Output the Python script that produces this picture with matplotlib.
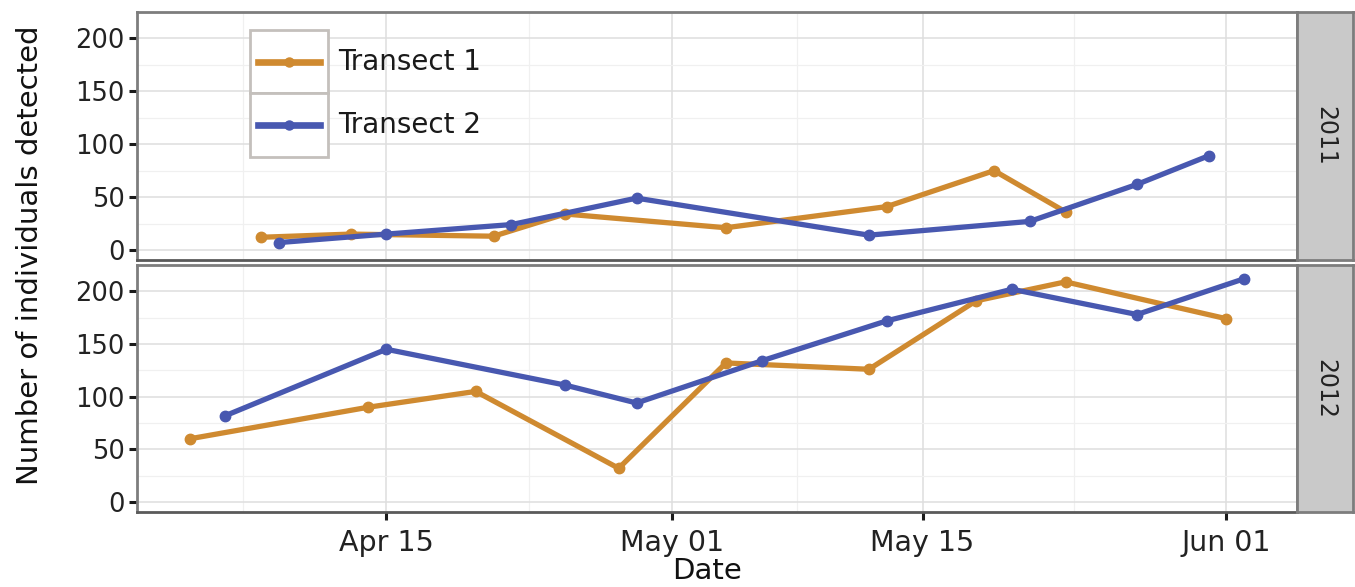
import numpy as np
import pandas as pd
import matplotlib
matplotlib.use("Agg")
import matplotlib.pyplot as plt
import matplotlib.dates as mdates
from matplotlib.patches import Rectangle
from matplotlib.lines import Line2D

# survey dates (month-day) and counts per transect, per year
t1_2011_dates = ["04-08", "04-13", "04-21", "04-25", "05-04", "05-13", "05-19", "05-23"]
t1_2011_counts = [12, 15, 13, 34, 21, 41, 75, 36]
t2_2011_dates = ["04-09", "04-15", "04-22", "04-29", "05-12", "05-21", "05-27", "05-31"]
t2_2011_counts = [7, 15, 24, 49, 14, 27, 62, 89]

t1_2012_dates = ["04-04", "04-14", "04-20", "04-28", "05-04", "05-12", "05-18", "05-23", "06-01"]
t1_2012_counts = [60, 90, 105, 32, 132, 126, 191, 209, 174]
t2_2012_dates = ["04-06", "04-15", "04-25", "04-29", "05-06", "05-13", "05-20", "05-27", "06-02"]
t2_2012_counts = [82, 145, 111, 94, 134, 172, 202, 178, 212]

years = ["2011", "2012"]
series_names = ["Transect 1", "Transect 2"]
colors = ["#cf8a30", "#4858b0"]
y_ticks = [0, 50, 100, 150, 200]
x_tick_days = ["04-15", "05-01", "05-15", "06-01"]


def to_date(md):
    # both years drawn on a common calendar axis
    return pd.to_datetime(["2012-" + d for d in md])


data = {
    "2011": [(t1_2011_dates, t1_2011_counts), (t2_2011_dates, t2_2011_counts)],
    "2012": [(t1_2012_dates, t1_2012_counts), (t2_2012_dates, t2_2012_counts)],
}

plt.rcParams["font.family"] = ["DejaVu Sans"]

fig = plt.figure(figsize=(13.55, 5.87), dpi=100)
W, H = 1355.0, 587.0

# panel boxes in pixels: (left, top, right, bottom)
panels = [(137, 12, 1297, 260), (137, 265, 1297, 512)]
strip_w = 56

all_dates = np.concatenate([to_date(d).values for y in years for d, _ in data[y]])
dmin, dmax = pd.Timestamp(all_dates.min()), pd.Timestamp(all_dates.max())
span = dmax - dmin
xlim = (mdates.date2num(dmin - span * 0.05), mdates.date2num(dmax + span * 0.05))

major = mdates.date2num(to_date(x_tick_days))
step0 = major[1] - major[0]
minor = [major[0] - step0 / 2] + [(a + b) / 2 for a, b in zip(major[:-1], major[1:])]

border = "#7d7d7d"
axes = []
for i, (year, (l, t, r, b)) in enumerate(zip(years, panels)):
    ax = fig.add_axes([l / W, 1 - b / H, (r - l) / W, (b - t) / H])
    axes.append(ax)
    for (dates, counts), c in zip(data[year], colors):
        ax.plot(to_date(dates), counts, color=c, lw=3.8, marker="o", ms=7.5,
                solid_joinstyle="round", solid_capstyle="round", zorder=3)
    ax.set_xlim(xlim)
    ax.set_ylim(-9.5, 221.5)
    ax.set_xticks(major)
    ax.set_xticks(minor, minor=True)
    ax.set_yticks(y_ticks)
    ax.set_yticks([25, 75, 125, 175, 225], minor=True)
    ax.grid(which="major", color="#dedede", lw=1.1, zorder=0)
    ax.grid(which="minor", color="#f0f0f0", lw=0.9, zorder=0)
    for s in ax.spines.values():
        s.set_color(border)
        s.set_linewidth(2.0)
    ax.spines["bottom"].set_color("#5a5a5a")
    ax.tick_params(axis="y", which="major", length=6, width=2.2, color="#1a1a1a",
                   labelsize=18.5, labelcolor="#222222", pad=3)
    ax.tick_params(which="minor", length=0)
    if i == 0:
        ax.tick_params(axis="x", which="major", length=0, labelbottom=False)
    else:
        ax.xaxis.set_major_formatter(mdates.DateFormatter("%b %d"))
        ax.tick_params(axis="x", which="major", length=6, width=2.2, color="#1a1a1a",
                       labelsize=20.5, labelcolor="#222222", pad=6)

    # facet strip on the right
    sax = fig.add_axes([r / W, 1 - b / H, strip_w / W, (b - t) / H])
    sax.set_facecolor("#c9c9c9")
    sax.set_xticks([])
    sax.set_yticks([])
    for s in sax.spines.values():
        s.set_color(border)
        s.set_linewidth(2.0)
    sax.text(0.5, 0.5, year, rotation=-90, ha="center", va="center",
             fontsize=17, color="#222222", transform=sax.transAxes)

# legend keys drawn in the top panel
ax0 = axes[0]
key_x0, key_x1 = 0.0974, 0.1647
key_rows = [(0.673, 0.927), (0.415, 0.673)]
for name, c, (y0, y1) in zip(series_names, colors, key_rows):
    ax0.add_patch(Rectangle((key_x0, y0), key_x1 - key_x0, y1 - y0, transform=ax0.transAxes,
                            facecolor="white", edgecolor="#c4c0bc", lw=2.0, zorder=5))
    ym = (y0 + y1) / 2
    ax0.add_line(Line2D([key_x0 + 0.007, key_x1 - 0.007], [ym, ym], transform=ax0.transAxes,
                        color=c, lw=4.8, zorder=6))
    ax0.add_line(Line2D([(key_x0 + key_x1) / 2], [ym], transform=ax0.transAxes,
                        color=c, marker="o", ms=6.5, zorder=6))
    ax0.text(key_x1 + 0.009, ym, name, transform=ax0.transAxes, ha="left", va="center",
             fontsize=20, color="#1a1a1a", zorder=6)

fig.text(0.022, 0.566, "Number of individuals detected", rotation=90,
         ha="center", va="center", fontsize=21, color="#111111")
fig.text(0.522, 0.027, "Date", ha="center", va="center", fontsize=21, color="#111111")

fig.savefig("out.png", dpi=100, facecolor="white")
